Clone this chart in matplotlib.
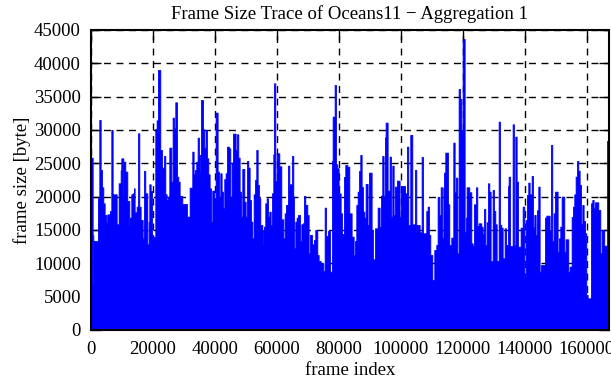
import numpy as np
import matplotlib
matplotlib.use("Agg")
import matplotlib.pyplot as plt

plt.rcParams['font.family'] = ['Liberation Serif', 'DejaVu Serif']

# Frame index (thousands) where each read-off peak segment begins, and its peak frame size [byte]
frame_k = [
    0.0, 0.64, 0.85, 1.07, 2.36, 2.79, 3.22, 3.65, 4.08, 4.51, 5.04, 5.37, 6.23, 6.66, 7.09, 7.3,
    8.38, 8.59, 9.02, 9.67, 9.88, 10.53, 10.74, 11.17, 11.82, 12.46, 12.68, 13.11, 13.54, 13.97,
    14.18, 14.83, 15.26, 15.69, 16.12, 16.77, 17.19, 17.62, 18.27, 18.7, 18.92, 19.35, 19.78,
    20.2, 20.85, 21.28, 21.71, 22.46, 23.0, 23.65, 24.08, 24.5, 24.94, 25.37, 26.01, 26.44,
    26.87, 27.3,
    27.84, 28.27, 28.7, 29.56, 31.06, 31.92, 32.78, 33.21, 33.64, 34.07, 34.5, 34.93, 35.36,
    35.58, 36.22, 36.65, 37.08, 37.51, 37.94, 38.37, 38.8, 39.23, 39.88, 40.31, 40.95, 41.38,
    41.81, 42.24, 42.67, 43.1, 43.53, 43.96, 44.61, 45.04, 45.47, 45.9, 46.76, 47.19, 47.62,
    48.05, 48.48, 48.91, 49.56, 49.99, 50.42, 50.85, 51.28, 51.71, 52.14, 52.57, 53.0, 53.43,
    53.86, 54.29, 54.72, 55.37,
    55.69, 55.9, 56.33, 56.77, 57.2, 57.63, 58.06, 58.49, 58.92, 59.13, 59.56, 59.99, 60.85,
    61.5, 62.14, 62.57, 63.0, 63.65, 64.08, 64.29, 64.94, 65.37, 65.58, 66.01, 66.44, 66.87,
    67.52, 67.95, 68.38, 68.81, 69.24, 69.88, 70.31, 70.74, 71.39, 72.03, 72.46, 73.11, 73.54,
    74.18, 74.4, 75.04, 75.48, 75.9, 76.55, 77.2, 77.84, 78.06, 78.7, 79.13, 79.56, 79.99,
    80.64, 81.07, 81.71, 82.14, 82.79, 83.43,
    84.18, 84.83, 85.26, 85.69, 86.12, 86.55, 86.98, 87.41, 87.84, 88.27, 88.7, 89.34, 89.77,
    90.63, 91.06, 91.71, 92.57, 93.21, 93.64, 94.07, 94.5, 94.93, 95.15, 95.79, 96.44, 96.87,
    97.3, 97.73, 98.16, 98.8, 99.66, 100.09, 101.38, 102.03, 102.46, 103.1, 103.75, 104.61,
    105.04, 106.12, 106.76, 107.19, 108.27, 108.7, 109.13, 109.56, 110.2, 110.85, 111.49,
    111.92,
    112.47, 112.9, 113.33, 113.76, 113.97, 114.4, 115.26, 115.69, 116.34, 116.98, 117.41,
    117.84, 118.27, 118.7, 119.13, 119.56, 119.99, 120.64, 121.07, 121.28, 122.14, 122.79,
    123.22, 123.65, 124.29, 124.72, 125.15, 126.01, 126.44, 126.87, 127.3, 127.73, 128.16,
    128.59, 129.02, 129.67, 130.1, 130.53, 130.96, 131.61, 132.03, 132.46, 132.9, 133.54,
    133.97, 134.62, 134.83, 135.26, 136.12, 136.55, 136.98, 137.41, 137.84, 138.7, 139.35,
    139.88, 140.31, 140.74, 141.17, 141.6, 142.25, 142.68, 143.11, 143.54, 143.97, 144.4,
    144.83, 145.26, 146.55, 146.98, 148.05, 148.48, 148.91, 149.34, 149.77, 150.63, 151.06,
    151.49, 151.92, 152.78, 153.21, 154.07, 154.5, 155.15, 155.58, 156.01, 156.44, 156.87,
    157.3, 157.73, 158.16, 158.59, 159.02, 159.45, 159.88, 160.31, 161.39, 161.82, 162.25,
    162.68, 163.75, 164.4, 164.83, 165.67, 166.55, 166.98,
]
frame_size = [
    25850, 14250, 7250, 13350, 19750, 31500, 24000, 21400, 19000, 17250, 16150, 17350, 17850, 30000, 11250, 20350,
    14750, 15850, 22000, 23950, 25750, 19900, 25250, 23750, 19350, 15750, 16850, 20350, 20500, 21250,
    17650, 18500, 29500, 18500, 16500, 13750, 23850, 20500, 12850, 16250, 21850, 20850, 14250,
    13950, 30150, 31450, 39000, 27000, 24350, 26100, 20350, 19500, 20000, 27350, 22250, 31850,
    30250, 34150,
    23000, 22250, 20100, 18900, 17000, 21350, 26750, 23350, 24000, 25250, 28850, 26250, 23750,
    34500, 30100, 27350, 30000, 25750, 23350, 21250, 16250, 20900, 19750, 32600, 23750, 19850,
    23500, 20750, 18250, 22650, 23500, 27500, 27250, 20000, 25100, 29450, 27000, 29350, 25850,
    20750, 17000, 24150, 19250, 17000, 25350, 24350, 19500, 16250, 13750, 20350, 22500, 27000,
    21750, 19750, 15750, 15000,
    12750, 15500, 19000, 19750, 17000, 17750, 15750, 20500, 26350, 37000, 22350, 26500, 24550,
    16600, 13750, 17500, 18750, 24650, 21000, 21850, 26100, 20000, 12250, 16250, 16850, 17250,
    13350, 15850, 16000, 20100, 18750, 17250, 11500, 14250, 12850, 13500, 15000, 11250, 10350,
    8850, 10000, 8850, 18350, 14100, 14850, 8750, 25350, 32000, 36750, 24850, 24250, 20500,
    17500, 14400, 22950, 24750, 24500, 17500,
    14000, 11250, 13350, 18750, 20750, 23850, 26250, 21450, 17750, 16850, 21900, 15750, 23600,
    15000, 10600, 15250, 18350, 15500, 20150, 26100, 20150, 28900, 31100, 20900, 26000, 17000,
    24650, 17250, 21500, 22400, 17000, 21600, 20500, 27500, 15750, 29250, 15850, 24000,
    15750, 14650, 25950, 14500, 17850, 18500, 14250, 11250, 7500, 12000, 12750,
    19950,
    17250, 21400, 13850, 21400, 23600, 26600, 18850, 12750, 13850, 28100, 20650,
    22850, 11500, 36150, 34650, 30000, 43650, 14750, 16850, 21400, 20650, 13000,
    12650, 18850, 21400, 15600, 16000, 15500, 14450, 18150, 12750, 16150, 22000,
    20750, 10350, 21000, 17850, 15850, 10350, 31250, 15750, 15350, 10750, 15250,
    12750, 21600, 23000, 12600, 30850, 12750, 29000, 22250, 12500, 15350, 18500,
    7650, 16500, 20250, 22100, 20350, 23100, 15400, 17250, 14250, 17950, 21500,
    8750, 9750, 16850, 17150, 15000, 27750, 13350, 17500, 20750, 11750, 13750,
    15500, 20000, 11750, 13600, 8750, 9500, 16950, 18500, 20350, 23000, 25350,
    23900, 21750, 15900, 18750, 16350, 14500, 5250, 4750, 19000, 19500, 18350,
    19150, 18000, 11500, 15000, 12650, 28350, 12650,
]
x_end_k = 167.2

x_ticks = [0, 20000, 40000, 60000, 80000, 100000, 120000, 140000, 160000]
y_ticks = [0, 5000, 10000, 15000, 20000, 25000, 30000, 35000, 40000, 45000]

title = "Frame Size Trace of Oceans11 \u2212 Aggregation 1"
xlabel = "frame index"
ylabel = "frame size [byte]"

x = np.append(np.asarray(frame_k) * 1000.0, x_end_k * 1000.0)
y = np.append(np.asarray(frame_size, dtype=float), frame_size[-1])

fig = plt.figure(figsize=(6.11, 3.8), dpi=100)
ax = fig.add_axes([0.1484, 0.1316, 0.8483, 0.7895])

ax.fill_between(x, 0, y, step='post', facecolor='#0000ff', edgecolor='#0000ff',
                linewidth=0.6, zorder=2)

ax.set_xlim(0, x_end_k * 1000.0)
ax.set_ylim(0, 45000)
ax.set_xticks(x_ticks)
ax.set_yticks(y_ticks)
ax.set_xticklabels([str(v) for v in x_ticks])
ax.set_yticklabels([str(v) for v in y_ticks])

ax.set_axisbelow(True)
ax.grid(True, color='black', linestyle=(0, (5, 4)), linewidth=1.0)
ax.tick_params(direction='in', length=7, width=1.0, top=True, right=True,
               labelsize=13.5, colors='black')
ax.tick_params(axis='x', pad=8)
ax.tick_params(axis='y', pad=7)
for s in ax.spines.values():
    s.set_linewidth(1.5)
    s.set_zorder(5)

ax.set_title(title, fontsize=13.5, pad=8)
ax.set_xlabel(xlabel, fontsize=13.5, labelpad=3)
ax.set_ylabel(ylabel, fontsize=13.5, labelpad=2)

fig.savefig("out.png", dpi=100)
